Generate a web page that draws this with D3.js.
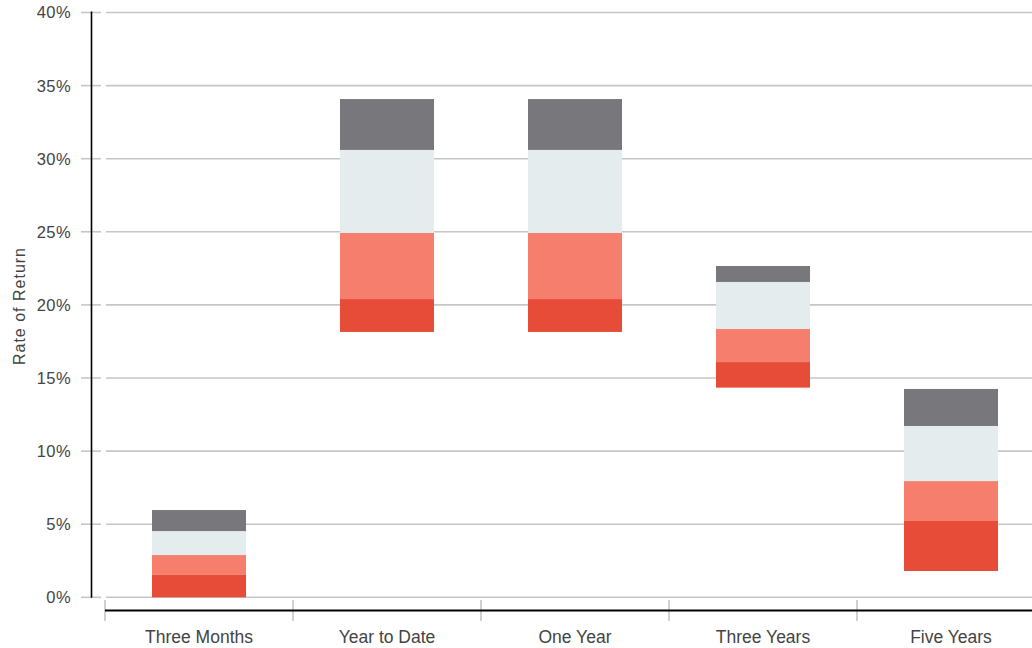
<!DOCTYPE html>
<html><head><meta charset="utf-8">
<script src="https://cdn.jsdelivr.net/npm/d3@7"></script>
<style>
html,body{margin:0;padding:0;background:#fff;}
svg{display:block;font-family:"Liberation Sans",Arial,sans-serif;}
</style></head>
<body><svg id="chart" width="1032" height="648"></svg>
<script>
const categories = ["Three Months","Year to Date","One Year","Three Years","Five Years"];
const low    = [0.0, 18.15, 18.15, 14.34, 1.8];
const q1     = [1.53, 20.4, 20.4, 16.09, 5.22];
const median = [2.89, 24.92, 24.92, 18.35, 7.95];
const q3     = [4.53, 30.6, 30.6, 21.57, 11.72];
const high   = [5.97, 34.08, 34.08, 22.66, 14.25];
const yTicks = [0,5,10,15,20,25,30,35,40];
const segColors = ["#e64c38","#f57e6c","#e4ecee","#78787c"];

const svg = d3.select("#chart");
const x = d3.scaleBand().domain(categories).range([105,1045]).paddingInner(0.5).paddingOuter(0.25);
const y = d3.scaleLinear().domain([0,40]).range([597.3,12.5]);

// gridlines + y ticks
const gy = svg.append("g");
gy.selectAll("line.grid").data(yTicks).join("line").attr("class","grid")
  .attr("x1",106).attr("x2",1032).attr("y1",d=>y(d)).attr("y2",d=>y(d))
  .attr("stroke","#c6c6c6").attr("stroke-width",1.6);
gy.selectAll("line.tk").data(yTicks).join("line").attr("class","tk")
  .attr("x1",81).attr("x2",101).attr("y1",d=>y(d)).attr("y2",d=>y(d))
  .attr("stroke","#c6c6c6").attr("stroke-width",1.6);
gy.selectAll("text").data(yTicks).join("text")
  .attr("x",71).attr("y",d=>y(d)).attr("dy","0.36em").attr("text-anchor","end")
  .attr("fill","#444").attr("font-size","16.5px").attr("letter-spacing","0.4px")
  .text(d=>d+"%");

// bars
const bounds = [low,q1,median,q3,high];
const segs = [];
categories.forEach((c,i)=>{
  for(let k=0;k<4;k++) segs.push({c, y0:bounds[k][i], y1:bounds[k+1][i], k});
});
svg.append("g").selectAll("rect").data(segs).join("rect")
  .attr("x",d=>x(d.c)).attr("width",x.bandwidth())
  .attr("y",d=>y(d.y1)).attr("height",d=>y(d.y0)-y(d.y1))
  .attr("fill",d=>segColors[d.k]);

// y axis line
svg.append("line").attr("x1",91.5).attr("x2",91.5).attr("y1",y(40)-1).attr("y2",y(0)+0.5)
  .attr("stroke","#000").attr("stroke-width",1.6);

// x axis
const edges = categories.map(c=>x(c)-x.step()*x.paddingInner()/2);
svg.append("g").selectAll("line").data(edges).join("line")
  .attr("x1",d=>d).attr("x2",d=>d).attr("y1",600).attr("y2",621)
  .attr("stroke","#c6c6c6").attr("stroke-width",1.6);
svg.append("line").attr("x1",105).attr("x2",1032).attr("y1",610.5).attr("y2",610.5)
  .attr("stroke","#000").attr("stroke-width",2);
svg.append("g").selectAll("text").data(categories).join("text")
  .attr("x",d=>x(d)+x.bandwidth()/2).attr("y",642.5).attr("text-anchor","middle")
  .attr("fill","#444").attr("font-size","17.5px").text(d=>d);

// y label
svg.append("text").attr("transform","translate(25,306) rotate(-90)")
  .attr("text-anchor","middle").attr("fill","#444").attr("font-size","16px")
  .attr("letter-spacing","1px").text("Rate of Return");
</script></body></html>
